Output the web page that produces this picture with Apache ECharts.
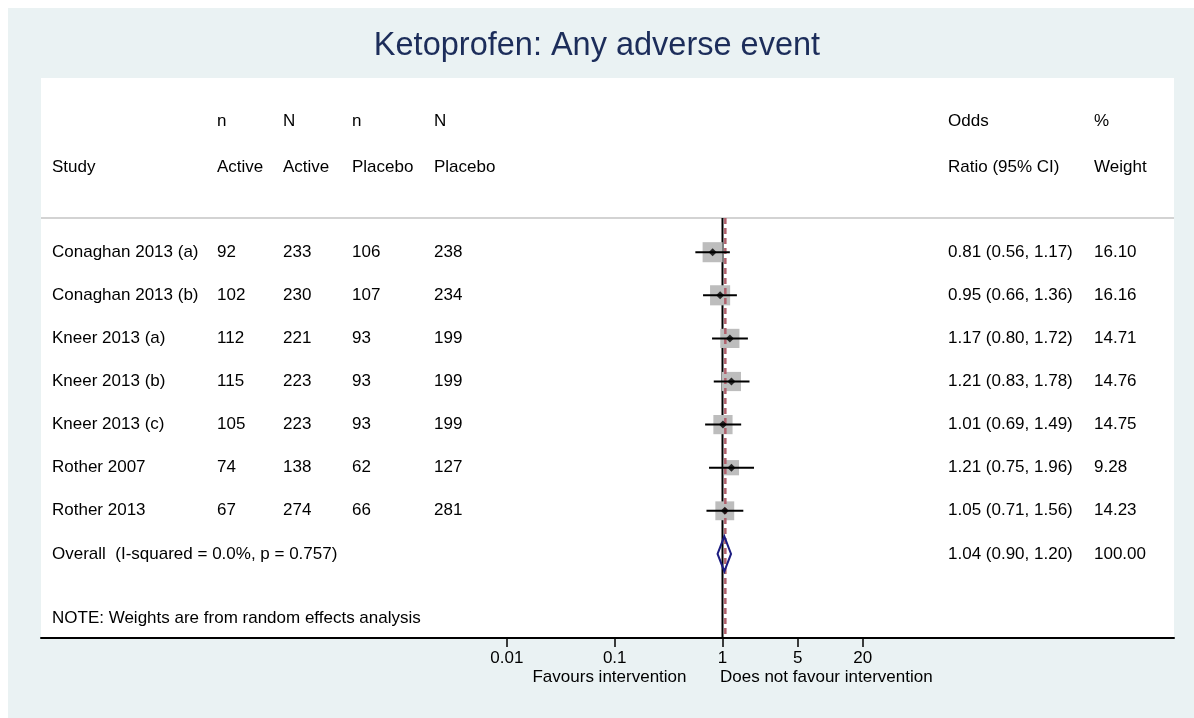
<!DOCTYPE html>
<html><head><meta charset="utf-8">
<script src="https://cdn.jsdelivr.net/npm/echarts@6/dist/echarts.min.js"></script>
<style>html,body{margin:0;padding:0;background:#fff}#c{width:1194px;height:718px}</style>
</head><body><div id="c"></div><script>
// ---- data ----
const studies = ['Conaghan 2013 (a)','Conaghan 2013 (b)','Kneer 2013 (a)','Kneer 2013 (b)','Kneer 2013 (c)','Rother 2007','Rother 2013'];
const nActive = [92,102,112,115,105,74,67];
const NActive = [233,230,221,223,223,138,274];
const nPlacebo = [106,107,93,93,93,62,66];
const NPlacebo = [238,234,199,199,199,127,281];
const oddsRatio = [0.81,0.95,1.17,1.21,1.01,1.21,1.05];
const ciLower = [0.56,0.66,0.80,0.83,0.69,0.75,0.71];
const ciUpper = [1.17,1.36,1.72,1.78,1.49,1.96,1.56];
const weights = [16.10,16.16,14.71,14.76,14.75,9.28,14.23];
const overallLabel = 'Overall  (I-squared = 0.0%, p = 0.757)';
const overallOR = 1.04, overallLower = 0.90, overallUpper = 1.20, overallWeight = 100.00;
const noteText = 'NOTE: Weights are from random effects analysis';
const headerTop = ['', 'n', 'N', 'n', 'N', 'Odds', '%'];
const headerBottom = ['Study', 'Active', 'Active', 'Placebo', 'Placebo', 'Ratio (95% CI)', 'Weight'];
const xTickValues = [0.01, 0.1, 1, 5, 20];
const xTickLabels = ['0.01', '0.1', '1', '5', '20'];
const titleText = 'Ketoprofen: Any adverse event';
const favoursLeft = 'Favours intervention';
const favoursRight = 'Does not favour intervention';

// ---- layout ----
const FONT = '"Liberation Sans", Arial, sans-serif';
const FS = 17;
const ROW0 = 252.2, ROWH = 43.1, GTOP = 78, GBOT = 638, GLEFT = 41, GRIGHT = 1174;
const PX1 = 722.5, PXDEC = 107.8;
const yMin = (GTOP - ROW0) / ROWH, yMax = (GBOT - ROW0) / ROWH;
const xMin = (GLEFT - PX1) / PXDEC, xMax = (GRIGHT - PX1) / PXDEC;
const colX = [52, 217, 283, 352, 434, 948, 1094];
const yHead1 = (121.5 - ROW0) / ROWH, yHead2 = (167.5 - ROW0) / ROWH, yRule = (218 - ROW0) / ROWH;
const yNote = (618 - ROW0) / ROWH;
const overallRow = studies.length;

const lg = v => Math.log10(v);
const fmtCI = (o, l, h) => o.toFixed(2) + ' (' + l.toFixed(2) + ', ' + h.toFixed(2) + ')';

// text cells
const cells = [];
headerTop.forEach((t, c) => { if (t) cells.push({x: colX[c], y: yHead1, text: t}); });
headerBottom.forEach((t, c) => cells.push({x: colX[c], y: yHead2, text: t}));
studies.forEach((s, i) => {
  const row = [s, String(nActive[i]), String(NActive[i]), String(nPlacebo[i]), String(NPlacebo[i]),
    fmtCI(oddsRatio[i], ciLower[i], ciUpper[i]), weights[i].toFixed(2)];
  row.forEach((t, c) => cells.push({x: colX[c], y: i, text: t}));
});
cells.push({x: colX[0], y: overallRow, text: overallLabel});
cells.push({x: colX[5], y: overallRow, text: fmtCI(overallOR, overallLower, overallUpper)});
cells.push({x: colX[6], y: overallRow, text: overallWeight.toFixed(2)});
cells.push({x: colX[0], y: yNote, text: noteText});

const tickLog = xTickValues.map(lg);

const chart = echarts.init(document.getElementById('c'), null, {renderer: 'canvas'});
chart.setOption({
  animation: false,
  backgroundColor: '#ffffff',
  title: {
    text: titleText, left: 'center', top: 30, padding: 0,
    textStyle: {fontFamily: FONT, fontSize: 32.5, fontWeight: 'normal', color: '#1c2d5a'}
  },
  graphic: [
    {type: 'rect', left: 8, top: 8, z: -10, shape: {width: 1186, height: 710}, style: {fill: '#EAF2F3'}},
    {type: 'rect', left: GLEFT, top: GTOP, z: -9, shape: {width: GRIGHT - GLEFT, height: GBOT - GTOP}, style: {fill: '#ffffff'}}
  ],
  grid: {left: GLEFT, right: 1194 - GRIGHT, top: GTOP, bottom: 718 - GBOT, containLabel: false},
  xAxis: [
    {
      type: 'value', min: xMin, max: xMax, position: 'bottom',
      splitLine: {show: false},
      axisLine: {show: true, onZero: false, lineStyle: {color: '#000', width: 2}},
      axisTick: {show: true, length: 9, customValues: tickLog, lineStyle: {color: '#000', width: 1.5}},
      axisLabel: {
        show: true, customValues: tickLog, margin: 12,
        fontFamily: FONT, fontSize: FS, color: '#000',
        formatter: v => {
          let best = 0, d = Infinity;
          tickLog.forEach((t, k) => { if (Math.abs(t - v) < d) { d = Math.abs(t - v); best = k; } });
          return xTickLabels[best];
        }
      }
    },
    {type: 'value', min: GLEFT, max: GRIGHT, show: false, splitLine: {show: false}}
  ],
  yAxis: {type: 'value', inverse: true, min: yMin, max: yMax, show: false, splitLine: {show: false}},
  series: [
    // header rule
    {
      type: 'custom', xAxisIndex: 1, z: 1, silent: true,
      data: [[GLEFT, yRule]],
      renderItem: (p, api) => {
        const a = api.coord([GLEFT, yRule]), b = api.coord([GRIGHT, yRule]);
        return {type: 'line', shape: {x1: a[0], y1: a[1], x2: b[0], y2: b[1]}, style: {stroke: '#c4c4c4', lineWidth: 1.5}};
      }
    },
    // no-effect line at OR = 1
    {
      type: 'custom', xAxisIndex: 0, z: 2, silent: true,
      data: [[lg(1), yRule]],
      renderItem: (p, api) => {
        const a = api.coord([api.value(0), api.value(1)]), b = api.coord([api.value(0), yMax]);
        return {type: 'line', shape: {x1: a[0], y1: a[1], x2: b[0], y2: b[1]}, style: {stroke: '#000', lineWidth: 2}};
      }
    },
    // weight squares
    {
      type: 'custom', xAxisIndex: 0, z: 3, silent: true,
      data: oddsRatio.map((o, i) => [lg(o), i, weights[i]]),
      renderItem: (p, api) => {
        const c = api.coord([api.value(0), api.value(1)]);
        const s = 5 * Math.sqrt(api.value(2));
        return {type: 'rect', shape: {x: c[0] - s / 2, y: c[1] - s / 2, width: s, height: s}, style: {fill: '#bdbdbd'}};
      }
    },
    // overall OR dashed line
    {
      type: 'custom', xAxisIndex: 0, z: 4, silent: true,
      data: [[lg(overallOR), yRule]],
      renderItem: (p, api) => {
        const a = api.coord([api.value(0), api.value(1)]), b = api.coord([api.value(0), yMax]);
        return {type: 'line', shape: {x1: a[0] + 1, y1: a[1], x2: b[0] + 1, y2: b[1]}, style: {stroke: '#b0606c', lineWidth: 2.5, lineDash: [6, 4]}};
      }
    },
    // confidence intervals
    {
      type: 'custom', xAxisIndex: 0, z: 5, silent: true,
      data: oddsRatio.map((o, i) => [lg(ciLower[i]), lg(ciUpper[i]), i]),
      renderItem: (p, api) => {
        const a = api.coord([api.value(0), api.value(2)]), b = api.coord([api.value(1), api.value(2)]);
        return {type: 'line', shape: {x1: a[0], y1: a[1], x2: b[0], y2: b[1]}, style: {stroke: '#000', lineWidth: 2}};
      }
    },
    // point estimates
    {
      type: 'scatter', xAxisIndex: 0, z: 6, silent: true,
      symbol: 'diamond', symbolSize: 8, itemStyle: {color: '#000'},
      data: oddsRatio.map((o, i) => [lg(o), i])
    },
    // overall diamond
    {
      type: 'custom', xAxisIndex: 0, z: 6, silent: true,
      data: [[lg(overallLower), lg(overallOR), lg(overallUpper), overallRow]],
      renderItem: (p, api) => {
        const y = api.value(3);
        const l = api.coord([api.value(0), y]), m = api.coord([api.value(1), y]), r = api.coord([api.value(2), y]);
        const h = 17.5;
        return {type: 'polygon', shape: {points: [[l[0], l[1]], [m[0], m[1] - h], [r[0], r[1]], [m[0], m[1] + h]]},
          style: {fill: 'none', stroke: '#1c1c80', lineWidth: 2}};
      }
    },
    // table text
    {
      type: 'custom', xAxisIndex: 1, z: 7, silent: true,
      data: cells.map(c => [c.x, c.y]),
      renderItem: (p, api) => {
        const c = cells[p.dataIndex];
        const pt = api.coord([c.x, c.y]);
        return {type: 'text', x: pt[0], y: pt[1],
          style: {text: c.text, fill: '#000', font: FS + 'px ' + FONT, textAlign: 'left', textVerticalAlign: 'middle', align: 'left', verticalAlign: 'middle'}};
      }
    },
    // favours labels
    {
      type: 'custom', xAxisIndex: 0, z: 7, silent: true,
      data: [[lg(1), yMax]],
      renderItem: (p, api) => {
        const pt = api.coord([api.value(0), api.value(1)]);
        return {type: 'group', children: [
          {type: 'text', x: pt[0] - 36, y: pt[1] + 39, style: {text: favoursLeft, fill: '#000', font: FS + 'px ' + FONT, textAlign: 'right', textVerticalAlign: 'middle', align: 'right', verticalAlign: 'middle'}},
          {type: 'text', x: pt[0] - 2.5, y: pt[1] + 39, style: {text: favoursRight, fill: '#000', font: FS + 'px ' + FONT, textAlign: 'left', textVerticalAlign: 'middle', align: 'left', verticalAlign: 'middle'}}
        ]};
      }
    }
  ]
});
</script></body></html>
